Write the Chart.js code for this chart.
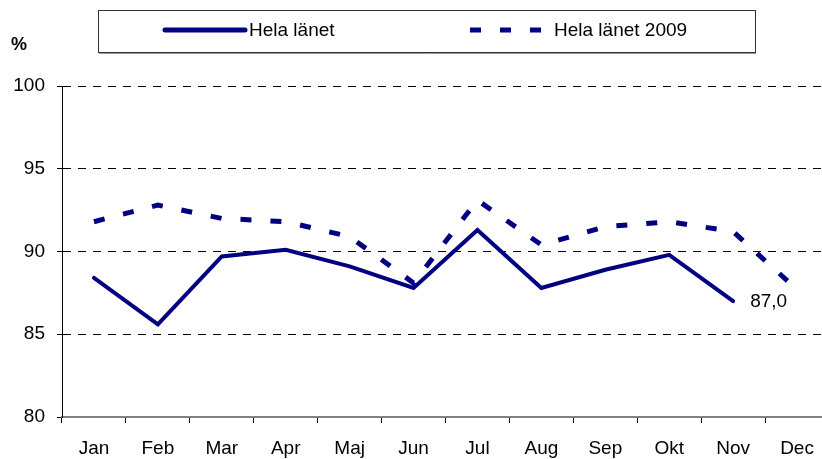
<!DOCTYPE html>
<html><head><meta charset="utf-8">
<script src="https://cdn.jsdelivr.net/npm/chart.js@4/dist/chart.umd.min.js"></script>
<style>html,body{margin:0;padding:0;overflow:hidden;background:#fff}#wrap{width:840px;height:459px;position:relative}</style>
</head><body><div id="wrap"><canvas id="c" width="840" height="459"></canvas></div>
<script>
const months = ['Jan','Feb','Mar','Apr','Maj','Jun','Jul','Aug','Sep','Okt','Nov','Dec'];
const helaLanet = [88.4, 85.6, 89.7, 90.1, 89.1, 87.8, 91.3, 87.8, 88.9, 89.8, 87.0, null];
const helaLanet2009 = [91.8, 92.8, 92.0, 91.8, 90.9, 88.1, 93.1, 90.4, 91.5, 91.8, 91.2, 87.7];
const yTicks = [80, 85, 90, 95, 100];
const seriesNames = ['Hela länet', 'Hela länet 2009'];
const unitLabel = '%';

const FONT = "'Liberation Sans', Arial, sans-serif";
const NAVY = '#000080';
const DASH = [11, 19];

const extrasPlugin = {
  id: 'extras',
  afterDraw(chart) {
    const ctx = chart.ctx;
    ctx.save();
    // legend box
    ctx.strokeStyle = '#333';
    ctx.lineWidth = 1;
    ctx.strokeRect(98.5, 10.5, 657, 42);
    ctx.strokeStyle = '#999';
    ctx.beginPath(); ctx.moveTo(99, 53.5); ctx.lineTo(756, 53.5); ctx.stroke();
    // legend item 1
    const ds = chart.data.datasets;
    ctx.strokeStyle = ds[0].borderColor;
    ctx.lineWidth = 5;
    ctx.lineCap = 'round';
    ctx.setLineDash([]);
    ctx.beginPath(); ctx.moveTo(165, 30); ctx.lineTo(245, 30); ctx.stroke();
    ctx.font = '19px ' + FONT;
    ctx.fillStyle = '#000';
    ctx.textBaseline = 'middle';
    ctx.textAlign = 'left';
    ctx.fillText(ds[0].label, 249, 31);
    // legend item 2
    ctx.strokeStyle = ds[1].borderColor;
    ctx.lineCap = 'butt';
    ctx.setLineDash(DASH);
    ctx.lineWidth = 5;
    ctx.beginPath(); ctx.moveTo(470, 30); ctx.lineTo(543, 30); ctx.stroke();
    ctx.setLineDash([]);
    ctx.fillText(ds[1].label, 554, 31);
    // unit label
    ctx.font = 'bold 18px ' + FONT;
    ctx.fillText(unitLabel, 11, 45);
    // data label at last value of first series
    const meta = chart.getDatasetMeta(0);
    let idx = -1;
    helaLanet.forEach((v, i) => { if (v !== null) idx = i; });
    if (idx >= 0) {
      const pt = meta.data[idx];
      ctx.font = '19px ' + FONT;
      ctx.fillText(helaLanet[idx].toFixed(1).replace('.', ','), pt.x + 17, pt.y + 1);
    }
    ctx.restore();
  }
};

new Chart(document.getElementById('c'), {
  type: 'line',
  data: {
    labels: months,
    datasets: [
      {
        label: seriesNames[0], data: helaLanet,
        borderColor: NAVY, backgroundColor: NAVY,
        borderWidth: 4, pointRadius: 0, tension: 0,
        borderJoinStyle: 'miter', borderCapStyle: 'round', spanGaps: false
      },
      {
        label: seriesNames[1], data: helaLanet2009,
        borderColor: NAVY, backgroundColor: NAVY,
        borderWidth: 5, pointRadius: 0, tension: 0,
        borderDash: DASH, borderJoinStyle: 'miter', borderCapStyle: 'butt'
      }
    ]
  },
  options: {
    responsive: false,
    animation: false,
    devicePixelRatio: 1,
    layout: { padding: { top: 86, left: 0, right: 11, bottom: 0 } },
    plugins: { legend: { display: false }, tooltip: { enabled: false } },
    scales: {
      x: {
        type: 'category',
        offset: true,
        grid: { display: true, drawOnChartArea: false, drawTicks: true, tickLength: 6, tickColor: '#000', offset: true },
        border: { display: true, color: '#808080', width: 2 },
        ticks: { color: '#000', font: { family: FONT, size: 19 }, padding: 14, maxRotation: 0, autoSkip: false },
        afterFit(s) { s.height = 42; }
      },
      y: {
        min: yTicks[0], max: yTicks[yTicks.length - 1],
        afterBuildTicks(s) { s.ticks = yTicks.map(v => ({ value: v })); },
        grid: { color: '#000', lineWidth: 1, drawTicks: true, tickLength: 5, tickColor: '#000' },
        border: { display: true, color: '#000', width: 1, dash: [8, 7] },
        ticks: { color: '#000', font: { family: FONT, size: 19 }, padding: 12 },
        afterFit(s) { s.width = 62; }
      }
    }
  },
  plugins: [extrasPlugin]
});
</script></body></html>
